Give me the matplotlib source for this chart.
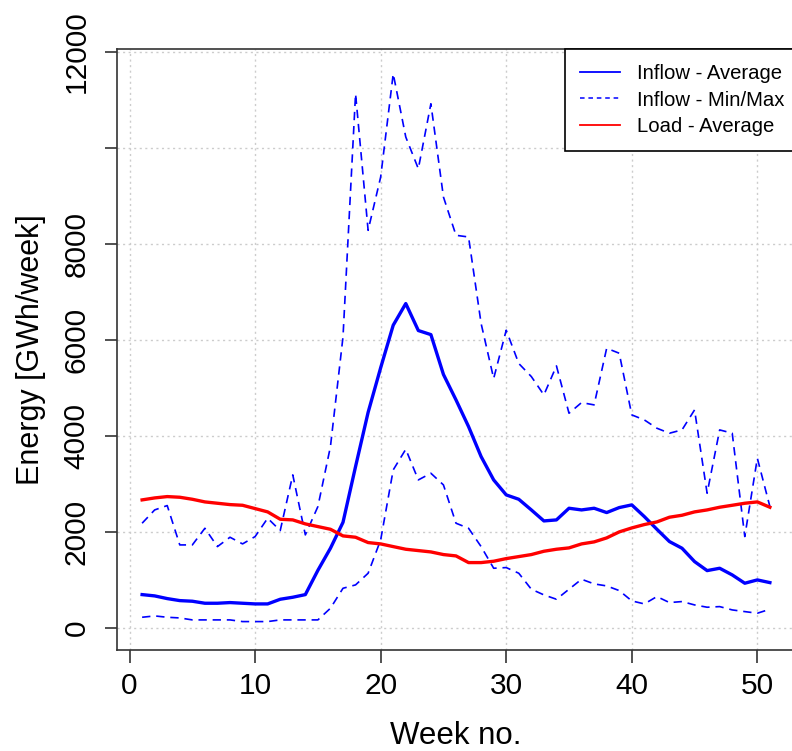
import numpy as np
import matplotlib
matplotlib.use("Agg")
import matplotlib.pyplot as plt
from matplotlib.lines import Line2D

plt.rcParams["font.family"] = ["Liberation Sans", "DejaVu Sans"]

# dati (GWh/settimana)
weeks = np.arange(1, 52)

inflow_avg = [694, 667, 611, 569, 556, 514, 514, 528, 514, 500,
              500, 597, 639, 694, 1200, 1660, 2200, 3361, 4490, 5420,
              6306, 6757, 6195, 6110, 5280, 4750, 4194, 3569, 3083, 2771,
              2680, 2458, 2229, 2250, 2493, 2458, 2493, 2403, 2507, 2563,
              2319, 2055, 1799, 1660, 1382, 1194, 1243, 1104, 931, 1000,
              944]

inflow_min = [222, 250, 222, 208, 167, 167, 167, 167, 132, 132,
              132, 167, 167, 167, 167, 410, 826, 896, 1139, 1833,
              3292, 3722, 3083, 3222, 2979, 2181, 2076, 1694, 1243, 1257,
              1139, 806, 688, 597, 806, 1014, 917, 875, 778, 563,
              500, 653, 528, 549, 479, 431, 444, 375, 340, 306,
              389]

inflow_max = [2181, 2458, 2549, 1729, 1729, 2076, 1694, 1889, 1750, 1903,
              2285, 2028, 3188, 1938, 2528, 3778, 6063, 11127, 8283, 9393,
              11544, 10226, 9566, 10919, 8977, 8179, 8144, 6341, 5196, 6202,
              5508, 5236, 4854, 5458, 4472, 4694, 4646, 5826, 5722, 4438,
              4333, 4160, 4056, 4125, 4542, 2806, 4125, 4056, 1903, 3535,
              2528]

load_avg = [2667, 2708, 2736, 2722, 2680, 2625, 2597, 2569, 2555, 2486,
            2417, 2264, 2250, 2167, 2111, 2055, 1917, 1889, 1778, 1750,
            1694, 1639, 1611, 1583, 1528, 1500, 1361, 1361, 1389, 1444,
            1486, 1528, 1597, 1639, 1667, 1750, 1792, 1875, 2000, 2083,
            2153, 2208, 2306, 2347, 2417, 2458, 2514, 2555, 2597, 2625,
            2514]

y_ticks = [0, 2000, 4000, 6000, 8000, 10000, 12000]
y_labels = ["0", "2000", "4000", "6000", "8000", "", "12000"]
x_ticks = [0, 10, 20, 30, 40, 50]

fig = plt.figure(figsize=(7.92, 7.51), dpi=100)
ax = fig.add_axes([117 / 792, 1 - 650 / 751, (795 - 117) / 792, (650 - 49) / 751])

dash = (5, 3.5)
ax.plot(weeks, inflow_max, color="#0000ff", lw=1.2, dashes=dash)
ax.plot(weeks, inflow_min, color="#0000ff", lw=1.2, dashes=dash)
ax.plot(weeks, inflow_avg, color="#0000ff", lw=2.4)
ax.plot(weeks, load_avg, color="#ff0000", lw=2.4)

ax.set_xlim(-1, 53)
ax.set_ylim(-460, 12060)
ax.set_xticks(x_ticks)
ax.set_yticks(y_ticks)
ax.set_yticklabels(y_labels, rotation=90, va="center")
ax.grid(True, color="#cccccc", linestyle=(0, (1.5, 2.5)), linewidth=1.0)
ax.set_axisbelow(True)

for sp in ax.spines.values():
    sp.set_color("#333333")
    sp.set_linewidth(1.2)

ax.tick_params(axis="both", direction="out", length=9, width=1.2,
               color="#333333", labelsize=21.5)
ax.tick_params(axis="x", pad=7)
ax.tick_params(axis="y", pad=10)

ax.set_xlabel("Week no.", fontsize=22.5, labelpad=15)
ax.set_ylabel("Energy [GWh/week]", fontsize=22, labelpad=12)

handles = [
    Line2D([], [], color="#0000ff", lw=1.3),
    Line2D([], [], color="#0000ff", lw=1.1, dashes=(3, 2.5)),
    Line2D([], [], color="#ff0000", lw=1.3),
]
leg = ax.legend(handles, ["Inflow - Average", "Inflow - Min/Max", "Load - Average"],
                loc="upper right", bbox_to_anchor=(1.0074, 1), borderaxespad=0,
                fontsize=14.6, fancybox=False, framealpha=1, edgecolor="black",
                handlelength=2.0, handletextpad=0.84, labelspacing=0.36,
                borderpad=0.75)
leg.get_frame().set_linewidth(1.2)

fig.savefig("out.png", dpi=100)
